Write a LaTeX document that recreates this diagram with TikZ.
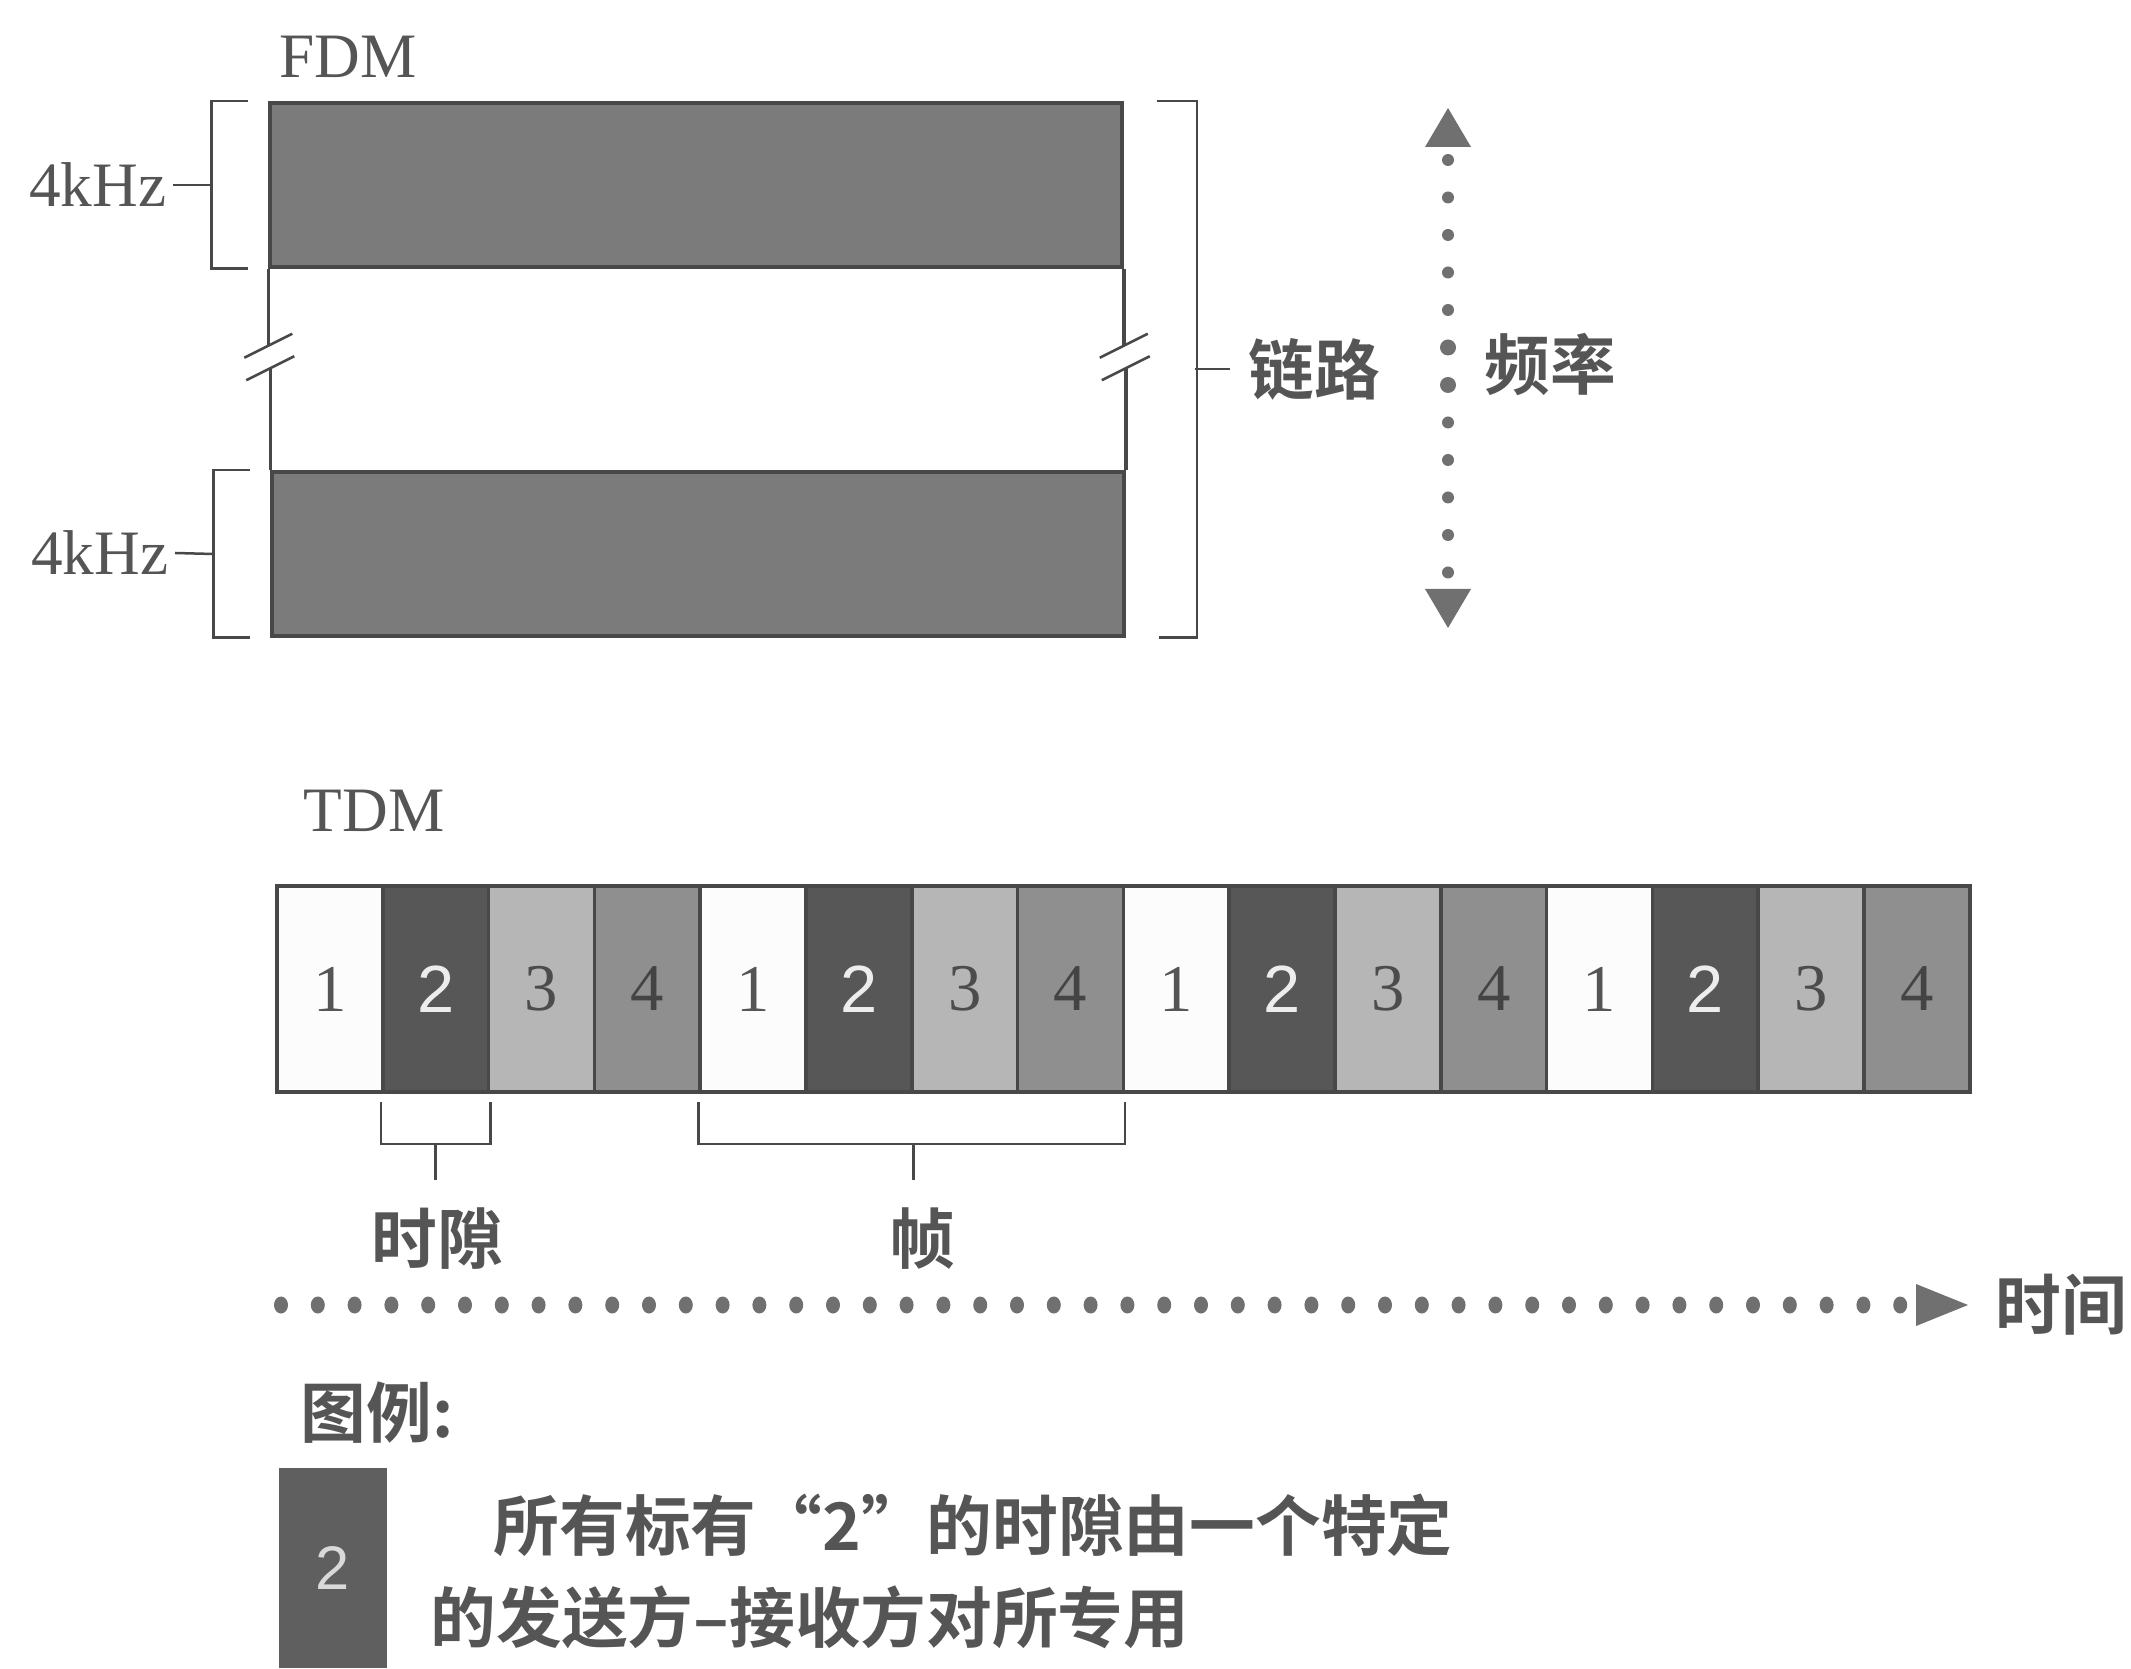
\documentclass[tikz,border=0pt]{standalone}
\usepackage{fontspec}
\setmainfont{Liberation Serif}
\newfontfamily\zhfont{Noto Sans CJK SC}[UprightFont=* Bold]
\newfontfamily\numfont{Liberation Sans}
\usetikzlibrary{arrows}
\usetikzlibrary{positioning}

\definecolor{ink}{HTML}{484848}
\definecolor{txt}{HTML}{555555}
\definecolor{bandgray}{HTML}{7B7B7B}
\definecolor{markgray}{HTML}{707070}
\definecolor{slot1}{HTML}{FCFCFC}
\definecolor{slot2}{HTML}{575757}
\definecolor{slot3}{HTML}{B6B6B6}
\definecolor{slot4}{HTML}{8F8F8F}

\tikzset{
  line/.style={draw=ink, line width=0.35mm},
  brk/.style={draw=ink, line width=0.25mm},
  lbl/.style={text=txt, inner sep=0, font=\fontsize{18}{21}\selectfont},
  zh/.style={text=txt, inner sep=0, font=\zhfont\fontsize{18.7}{22}\selectfont},
  band/.style={line, fill=bandgray, minimum width=85.2mm, minimum height=16.4mm, inner sep=0},
  cell/.style={line, minimum width=10.58mm, minimum height=20.6mm, inner sep=0, font=\fontsize{19}{22}\selectfont},
  s1/.style={fill=slot1, text=txt},
  s2/.style={fill=slot2, text=white!93!black, font=\numfont\fontsize{19}{22}\selectfont},
  s3/.style={fill=slot3, text=txt!90!black},
  s4/.style={fill=slot4, text=txt!80!black}
}

\begin{document}
\begin{tikzpicture}
\useasboundingbox (0,0) rectangle (213.1mm,166.8mm);

% FDM
\node (fdm) at (34.8mm,161.1mm) [lbl] {FDM};
\node (ch1) at (69.6mm,148.3mm) [band] {};
\node (ch2) at (69.8mm,111.4mm) [band] {};

\foreach \s in {west,east}
{
\draw [line] (ch1.south \s) -- ++(0,-7.7mm);
\draw [line] (ch2.north \s) -- ++(0,10.2mm);
\draw [brk] ([shift={(-2.4mm,-8.9mm)}]ch1.south \s) -- ++(4.8mm,2.4mm);
\draw [brk] ([shift={(-2.4mm,9mm)}]ch2.north \s) -- ++(4.8mm,2.4mm);
}

\node (khz1) at (16.7mm,148.3mm) [lbl, anchor=east] {4kHz};
\node (khz2) at (16.9mm,111.5mm) [lbl, anchor=east] {4kHz};
\foreach \c/\k in {ch1/khz1,ch2/khz2}
{
\draw [brk] ([xshift=-2mm]\c.north west) -- ++(-3.7mm,0) |- ([xshift=-2mm]\c.south west);
\draw [brk] ([xshift=-5.7mm]\c.west) -- ([xshift=0.6mm]\k.east);
}

\draw [brk] ([xshift=3.3mm]ch1.north east) -- ++(4mm,0) coordinate (rb)
  |- ([xshift=3.3mm]ch2.south east);
\coordinate (link) at (119.5mm,129.9mm);
\node (lnk) [zh, right=5.3mm of link] {链路};
\draw [brk] (link) -- ([xshift=-1.8mm]lnk.west);

\coordinate (ftop) at (144.8mm,156mm);
\coordinate (fbot) at (144.8mm,104mm);
\fill [markgray] (ftop) -- ++(-2.3mm,-3.9mm) -- ++(4.6mm,0) -- cycle;
\fill [markgray] (fbot) -- ++(-2.3mm,3.9mm) -- ++(4.6mm,0) -- cycle;
\foreach \k in {0,...,11}
{
\fill [markgray] (144.8mm,150.8mm-\k*3.75mm) circle (0.6mm);
}
\foreach \k in {5,6}
{
\fill [markgray] (144.8mm,150.8mm-\k*3.75mm) circle (0.8mm);
}
\node (frq) at (148.4mm,130.3mm) [zh, anchor=west] {频率};

% TDM
\node (tdm) at (37.4mm,85.7mm) [lbl] {TDM};
\foreach \i in {0,...,15}
{
\pgfmathtruncatemacro\n{mod(\i,4)+1}
\node (c\i) at (32.99mm+\i*10.58mm,67.9mm) [cell, s\n] {\n};
}

\draw [brk] ([yshift=-0.8mm]c1.south west) -- ++(0,-4.2mm) -| ([yshift=-0.8mm]c1.south east);
\draw [brk] ([yshift=-0.8mm]c4.south west) -- ++(0,-4.2mm) -| ([yshift=-0.8mm]c7.south east);
\coordinate (slotbr) at ([yshift=-5mm]c1.south);
\coordinate (slottip) at ([yshift=-8.6mm]c1.south);
\coordinate (framebr) at ([yshift=-5mm]c5.south east);
\coordinate (frametip) at ([yshift=-8.6mm]c5.south east);
\draw [brk] (slotbr) -- (slottip);
\draw [brk] (framebr) -- (frametip);
\node (slot) at (43.7mm,42.9mm) [zh] {时隙};
\node (frame) at (92.2mm,42.9mm) [zh] {帧};

\coordinate (tend) at (196.8mm,36.3mm);
\foreach \k in {0,...,44}
{
\fill [markgray] (28.1mm+\k*3.68mm,36.3mm) ellipse (0.7mm and 0.85mm);
}
\fill [markgray] (tend) -- ++(-5.2mm,2.1mm) -- ++(0,-4.2mm) -- cycle;
\node (time) [zh, right=2.7mm of tend] {时间};

% legend
\node (key) at (30mm,25.5mm) [zh, anchor=west] {图例:};
\node (keybox) at (33.3mm,10mm) [fill=slot2!95!white, minimum width=10.8mm, minimum height=20mm, inner sep=0,
  text=white!85!black, font=\numfont\fontsize{17.5}{20}\selectfont] {2};
\node (keytxt1) at (49.3mm,14.3mm) [zh, anchor=west] {所有标有“2”的时隙由一个特定};
\node (keytxt2) at (43mm,5.1mm) [zh, anchor=west] {的发送方–接收方对所专用};
\end{tikzpicture}
\end{document}
